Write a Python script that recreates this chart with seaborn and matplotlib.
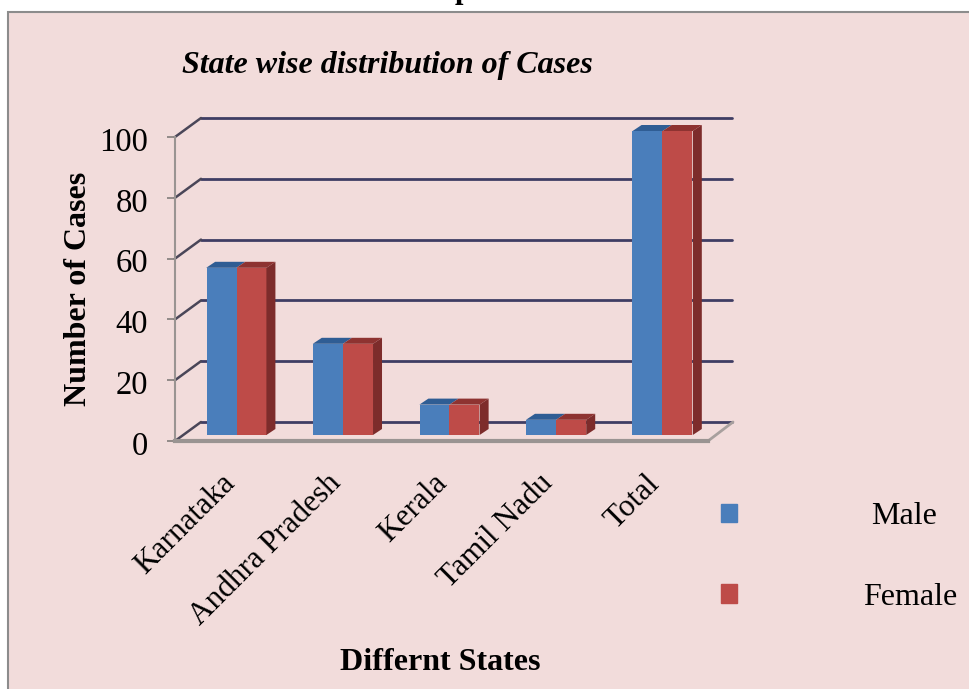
import pandas as pd
import matplotlib
matplotlib.use("Agg")
import matplotlib.pyplot as plt
import seaborn as sns
from matplotlib.patches import Polygon, Rectangle
from matplotlib.transforms import ScaledTranslation, IdentityTransform

states = ["Karnataka", "Andhra Pradesh", "Kerala", "Tamil Nadu", "Total"]
male = [55, 30, 10, 5, 100]
female = [55, 30, 10, 5, 100]
y_ticks = [0, 20, 40, 60, 80, 100]

W, H = 970, 689
BLUE, RED = "#4a7ebb", "#be4b48"
PINK = "#f2dcdb"
WALL = (25, 19)     # depth of the chart box in pixels
BAR_SHIFT = (8, 6)  # bars stand a little behind the front edge
BAR_DEPTH = (9, 6)

df = pd.DataFrame({
    "state": states * 2,
    "cases": male + female,
    "sex": ["Male"] * len(states) + ["Female"] * len(states),
})

sns.set_style("white")
plt.rcParams["font.family"] = ["Liberation Serif", "DejaVu Serif"]
plt.rcParams["text.color"] = "black"
plt.rcParams["axes.labelcolor"] = "black"
plt.rcParams["xtick.color"] = "black"
plt.rcParams["ytick.color"] = "black"

fig = plt.figure(figsize=(W / 100, H / 100), dpi=100, facecolor="white")
fig.add_artist(Rectangle((8 / W, -0.02), 1.02, 1.02 - 12 / H, transform=fig.transFigure,
                         facecolor=PINK, edgecolor="#8c8c8c", linewidth=1.5, zorder=-1))

ax = fig.add_axes([175 / W, (H - 441) / H, 533 / W, 304 / H])
ax.patch.set_alpha(0)

sns.barplot(data=df, x="state", y="cases", hue="sex", hue_order=["Male", "Female"],
            palette=[BLUE, RED], width=0.565, gap=0, saturation=1, dodge=True, ax=ax, zorder=3,
            edgecolor="none", linewidth=0)
ax.set_ylim(0, 100)
ax.set_yticks(y_ticks)


def shifted(dx, dy):
    return ax.transData + ScaledTranslation(dx / 100, dy / 100, fig.dpi_scale_trans)


# back wall and side wall lines
for v in y_ticks:
    ax.plot([-0.5, 4.5], [v, v], color="#3f3d63", lw=2, transform=shifted(*WALL), clip_on=False, zorder=1)
    x0, y0 = ax.transData.transform((-0.5, v))
    ax.add_line(plt.Line2D([x0, x0 + WALL[0] + 1], [y0, y0 + WALL[1]], color="#4a4658", lw=1.8,
                           transform=IdentityTransform(), clip_on=False, zorder=1))

# right edge of the floor
x0, y0 = ax.transData.transform((4.5, 0))
ax.add_line(plt.Line2D([x0, x0 + WALL[0]], [y0, y0 + WALL[1]], color="#a8a09e", lw=2,
                       transform=IdentityTransform(), clip_on=False, zorder=1))

# 3d faces of the bars
tops = {0: "#2f5d94", 1: "#8e3331"}
for i, cont in enumerate(ax.containers):
    for bar in cont:
        (xa, ya) = ax.transData.transform((bar.get_x(), 0))
        (xb, yb) = ax.transData.transform((bar.get_x() + bar.get_width(), bar.get_height()))
        xa, xb = xa + BAR_SHIFT[0], xb + BAR_SHIFT[0]
        ya, yb = ya + BAR_SHIFT[1], yb + BAR_SHIFT[1]
        dx, dy = BAR_DEPTH
        ax.add_patch(Polygon([(xa, yb), (xb, yb), (xb + dx, yb + dy), (xa + dx, yb + dy)],
                             closed=True, facecolor=tops[i], edgecolor="none",
                             transform=IdentityTransform(), clip_on=False, zorder=3))
        if i == 1:
            ax.add_patch(Polygon([(xb, ya), (xb + dx, ya + dy), (xb + dx, yb + dy), (xb, yb)],
                                 closed=True, facecolor="#7d2c2b", edgecolor="none",
                                 transform=IdentityTransform(), clip_on=False, zorder=3))
        bar.set_transform(shifted(*BAR_SHIFT))
        bar.set_clip_on(False)

sns.despine(ax=ax, top=True, right=True)
for side in ["left", "bottom"]:
    ax.spines[side].set_color("#9a9492")
ax.spines["left"].set_linewidth(1.5)
ax.spines["bottom"].set_linewidth(3)

ax.tick_params(axis="y", length=6, width=1.3, color="#8a8482", labelsize=23.5, labelcolor="black", pad=13.5, left=True)
ax.tick_params(axis="x", length=0, labelsize=22.5, labelcolor="black", pad=20)
ax.set_xticks(range(len(states)))
ax.set_xticklabels(states, rotation=45, ha="right", rotation_mode="anchor")
for lab in ax.get_xticklabels():
    lab.set_transform(lab.get_transform() + ScaledTranslation(-9 / 100, 0, fig.dpi_scale_trans))
for lab in ax.get_yticklabels():
    lab.set_transform(lab.get_transform() + ScaledTranslation(0, -2 / 100, fig.dpi_scale_trans))

ax.set_ylabel("Number of Cases", fontsize=23, fontweight="bold", color="black")
ax.yaxis.set_label_coords((93 - 175) / 533, 0.5)
ax.set_xlabel("Differnt States", fontsize=23, fontweight="bold", va="center", color="black")
ax.xaxis.set_label_coords((440 - 175) / 533, -(662 - 441) / 304)

fig.text(387 / W, 1 - 65 / H, "State wise distribution of Cases", fontsize=23,
         fontweight="bold", style="italic", ha="center", va="center", color="black")
# tail of the page heading cut by the top of the picture
fig.text(463 / W, 1 + 2 / H, "p", fontsize=22, fontweight="bold", ha="center", va="baseline", color="black")

handles = [Rectangle((0, 0), 1, 1, color=BLUE), Rectangle((0, 0), 1, 1, color=RED)]
leg = ax.legend(handles, ["Male", "Female"], loc="center left", frameon=False,
                bbox_to_anchor=(721 / W, 1 - 557 / H), bbox_transform=fig.transFigure,
                fontsize=23, handlelength=0.5, handleheight=0.5, handletextpad=3.94,
                labelspacing=1.62, borderpad=0, borderaxespad=0)
leg.get_texts()[0].set_position((8, 0))

fig.savefig("out.png", dpi=100, facecolor="white")
